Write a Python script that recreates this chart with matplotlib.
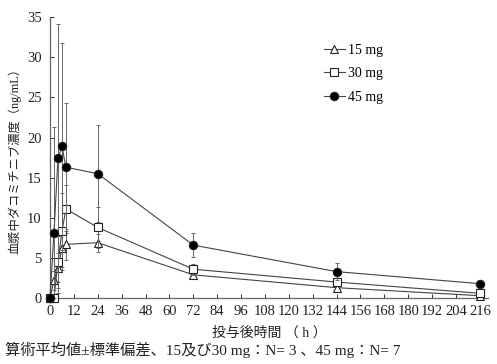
import numpy as np
import matplotlib.pyplot as plt

plt.rcParams['font.family'] = ['Liberation Serif', 'Noto Sans CJK JP']

# time points (h)
times = [0, 2, 4, 6, 8, 24, 72, 144, 216]

# mean plasma concentration (ng/mL)
mean_15 = [0, 2.2, 3.8, 6.2, 6.7, 6.9, 2.9, 1.3, 0.3]
mean_30 = [0, 0, 4.5, 8.3, 11.1, 8.8, 3.6, 2.0, 0.6]
mean_45 = [0, 8.1, 17.4, 18.9, 16.3, 15.5, 6.6, 3.3, 1.8]

# standard deviation
sd_15 = [0, 1.2, 1.8, 2.3, 1.9, 1.1, 0.4, 0.3, 0.1]
sd_30 = [0, 0, 3.2, 4.8, 3.0, 2.5, 0.7, 0.5, 0.2]
sd_45 = [0, 13.2, 16.8, 12.9, 8.0, 6.0, 1.5, 1.1, 0.3]

series = [
    ('15 mg', mean_15, sd_15, '^', 'white'),
    ('30 mg', mean_30, sd_30, 's', 'white'),
    ('45 mg', mean_45, sd_45, 'o', 'black'),
]

fig = plt.figure(figsize=(4.97, 3.64), dpi=100)
ax = fig.add_axes([0.1006, 0.181, 0.881, 0.772])

handles = []
for i, (lab, m, s, mk, fc) in enumerate(series):
    m = np.array(m)
    s = np.array(s)
    lower = np.minimum(s, m)  # bars stop at the axis
    ax.errorbar(times, m, yerr=[lower, s], fmt='none', ecolor='#666666',
                elinewidth=0.7, capsize=1.5, capthick=0.7, zorder=2 + i)
    h, = ax.plot(times, m, color='#444444', lw=0.8, marker=mk, ms=6,
                 mfc=fc, mec='#222222', mew=0.8, label=lab, clip_on=False,
                 zorder=3 + i)
    handles.append(h)

ax.set_xlim(0, 220)
ax.set_ylim(0, 35)
ax.set_xticks(np.arange(0, 217, 12))
ax.set_yticks(np.arange(0, 36, 5))
ax.tick_params(direction='in', length=3, width=0.7, labelsize=10.5,
               colors='#333333', labelcolor='#222222')
ax.tick_params(axis='x', pad=5)
ax.tick_params(axis='y', pad=6)
for sp in ['top', 'right']:
    ax.spines[sp].set_visible(False)
for sp in ['left', 'bottom']:
    ax.spines[sp].set_color('#666666')
    ax.spines[sp].set_linewidth(0.9)

ax.set_xlabel('投与後時間 （ h ）', fontsize=10, color='#222222')
ax.xaxis.set_label_coords(0.5, -0.1)
ax.set_ylabel('血漿中ダコミチニブ濃度（ng/mL）', fontsize=8.8, color='#222222')
ax.yaxis.set_label_coords(-0.064, 0.5)

ax.legend(handles=handles, loc='upper left', bbox_to_anchor=(0.61, 0.93),
          frameon=False, fontsize=10, handlelength=1.5, handletextpad=0.25,
          labelspacing=0.75, borderpad=0, numpoints=1)

fig.text(0.01, 0.025, '算術平均値±標準偏差、15及び30 mg：N= 3 、45 mg：N= 7',
         fontsize=11, color='#222222')

fig.savefig('out.png', dpi=100)
